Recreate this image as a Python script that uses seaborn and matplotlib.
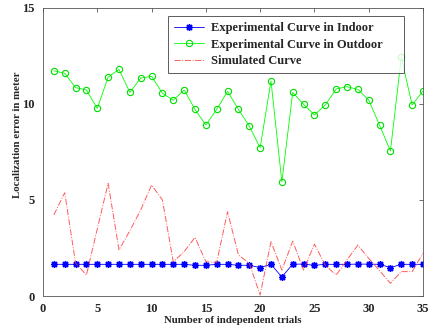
import numpy as np
import pandas as pd
import matplotlib
matplotlib.use("Agg")
import matplotlib.pyplot as plt
import seaborn as sns

# ---------------- DATA ----------------

trials = list(range(1, 36))

indoor = [1.65, 1.65, 1.65, 1.65, 1.65, 1.65, 1.65, 1.65, 1.65, 1.65,
          1.65, 1.65, 1.65, 1.60, 1.60, 1.65, 1.65, 1.60, 1.60, 1.48,
          1.65, 0.99, 1.66, 1.66, 1.60, 1.65, 1.65, 1.65, 1.66, 1.66,
          1.65, 1.48, 1.65, 1.65, 1.65]

outdoor = [11.73, 11.60, 10.85, 10.73, 9.77, 11.40, 11.80, 10.60, 11.35, 11.44,
           10.56, 10.20, 10.73, 9.72, 8.90, 9.72, 10.66, 9.72, 8.85, 7.72,
           11.20, 5.94, 10.60, 9.98, 9.43, 9.95, 10.78, 10.90, 10.76, 10.20,
           8.90, 7.55, 12.43, 9.95, 10.68]

simulated = [4.22, 5.38, 1.72, 1.09, 3.50, 5.87, 2.40, 3.40, 4.48, 5.78,
             5.00, 1.78, 2.31, 3.05, 1.79, 1.75, 4.39, 2.14, 1.70, 0.05,
             2.83, 1.35, 2.86, 1.35, 2.70, 1.60, 1.09, 1.88, 2.65, 1.96,
             1.32, 0.66, 1.27, 1.27, 2.22]

labels = ["Experimental Curve in Indoor",
          "Experimental Curve in Outdoor",
          "Simulated Curve"]

# ---------------- STYLE ----------------

sns.set_style("white")
plt.rcParams["font.family"] = ["Liberation Serif", "DejaVu Serif"]
plt.rcParams["font.weight"] = "bold"

fig = plt.figure(figsize=(4.33, 3.29), dpi=100)
ax = fig.add_axes([0.0993, 0.1003, 0.8776, 0.8754])

df = pd.DataFrame({"trial": trials, "indoor": indoor,
                   "outdoor": outdoor, "simulated": simulated})

# MATLAB-like asterisk marker (8 spokes)
sns.lineplot(data=df, x="trial", y="indoor", ax=ax, color="#0000ff",
             marker=(8, 2, 0), markersize=5, markeredgecolor="#0000ff",
             markeredgewidth=1.0, linewidth=0.6, label=labels[0])
sns.lineplot(data=df, x="trial", y="outdoor", ax=ax, color="#00ff00",
             marker="o", markersize=4.5, markeredgecolor="#00dd00",
             markerfacecolor="none", markeredgewidth=0.8,
             linewidth=0.6, label=labels[1])
sns.lineplot(data=df, x="trial", y="simulated", ax=ax, color="#ff3333",
             linestyle="-.", linewidth=0.7, alpha=0.8, label=labels[2])

ax.set_xlim(0, 35)
ax.set_ylim(0, 15)
ax.set_xticks(range(0, 36, 5))
ax.set_yticks([0, 5, 10, 15])
ax.tick_params(direction="in", top=True, right=True, length=3,
               width=0.6, color="#555555", labelsize=9)
ax.tick_params(axis="x", pad=5)
ax.tick_params(axis="y", pad=6)
for lbl in ax.get_xticklabels() + ax.get_yticklabels():
    lbl.set_fontweight("bold")
for sp in ax.spines.values():
    sp.set_linewidth(0.6)
    sp.set_color("#555555")

ax.set_xlabel("Number of independent trials", fontsize=7.8,
              fontweight="bold", labelpad=1)
ax.set_ylabel("Localization error in meter", fontsize=7.8,
              fontweight="bold")
ax.yaxis.set_label_coords(-0.055, 0.56)

# legend stretched to the MATLAB box width (extra room on the right)
leg = ax.legend(loc="upper left", bbox_to_anchor=(0.329, 0.0, 0.621, 0.972),
                mode="expand",
                prop={"family": "Liberation Serif", "weight": "bold", "size": 9},
                frameon=True, fancybox=False, handlelength=2.4,
                borderpad=0.5, labelspacing=0.35, handletextpad=0.55,
                borderaxespad=0)
leg.get_frame().set_edgecolor("#333333")
leg.get_frame().set_linewidth(0.7)

fig.savefig("out.png", dpi=100)
